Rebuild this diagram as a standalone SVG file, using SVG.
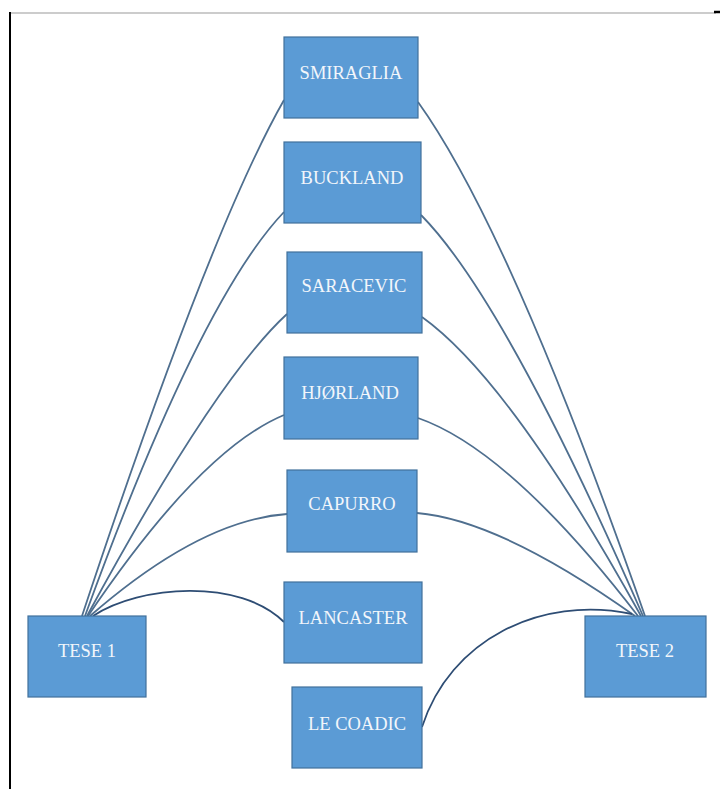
<svg xmlns="http://www.w3.org/2000/svg" width="720" height="789" viewBox="0 0 720 789">
<style>
.box{fill:#5b9bd5;stroke:#41719c;stroke-width:1.2}
.lbl{font-family:"Liberation Serif","Times New Roman",serif;font-size:18.5px;fill:#f2f6fb;text-anchor:middle}
.c{fill:none;stroke:#4f6f8f;stroke-width:1.8}
.d{fill:none;stroke:#2e4d74;stroke-width:1.8}
</style>
<rect width="720" height="789" fill="#ffffff"/>
<g id="frame">
<line x1="10" y1="13" x2="716" y2="13" stroke="#9a9a9a" stroke-width="1.2"/>
<line x1="10" y1="12" x2="10" y2="789" stroke="#000" stroke-width="2"/>
<line x1="714" y1="12" x2="720" y2="12" stroke="#000" stroke-width="2.5"/>
</g>
<g id="connectors">
<path class="c" d="M82,616 Q210,230 284,100"/>
<path class="c" d="M85,616 Q200,300 284,212"/>
<path class="c" d="M87,616 Q215,380 287,314"/>
<path class="c" d="M88,616 Q200,450 284,415"/>
<path class="c" d="M90,616 Q200,520 287,514"/>
<path class="d" d="M93,616 C140,585 240,578 284,622"/>
<path class="c" d="M645,616 Q510,230 418,102"/>
<path class="c" d="M643,616 Q505,300 421,215"/>
<path class="c" d="M641,616 Q510,380 422,317"/>
<path class="c" d="M638,616 Q510,450 418,418"/>
<path class="c" d="M635,616 Q500,520 417,513"/>
<path class="d" d="M422,727 C450,640 540,595 632,614"/>
</g>
<g id="smiraglia"><rect class="box" x="284" y="37" width="134" height="81"/><text class="lbl" x="351" y="79">SMIRAGLIA</text></g>
<g id="buckland"><rect class="box" x="284" y="142" width="137" height="81"/><text class="lbl" x="352" y="184">BUCKLAND</text></g>
<g id="saracevic"><rect class="box" x="287" y="252" width="135" height="81"/><text class="lbl" x="354" y="292">SARACEVIC</text></g>
<g id="hjorland"><rect class="box" x="284" y="357" width="134" height="82"/><text class="lbl" x="350" y="399">HJØRLAND</text></g>
<g id="capurro"><rect class="box" x="287" y="470" width="130" height="82"/><text class="lbl" x="352" y="510">CAPURRO</text></g>
<g id="lancaster"><rect class="box" x="284" y="582" width="138" height="81"/><text class="lbl" x="353" y="624">LANCASTER</text></g>
<g id="lecoadic"><rect class="box" x="292" y="687" width="130" height="81"/><text class="lbl" x="357" y="730">LE COADIC</text></g>
<g id="tese1"><rect class="box" x="28" y="616" width="118" height="81"/><text class="lbl" x="87" y="657">TESE 1</text></g>
<g id="tese2"><rect class="box" x="585" y="616" width="121" height="81"/><text class="lbl" x="645" y="657">TESE 2</text></g>
</svg>
